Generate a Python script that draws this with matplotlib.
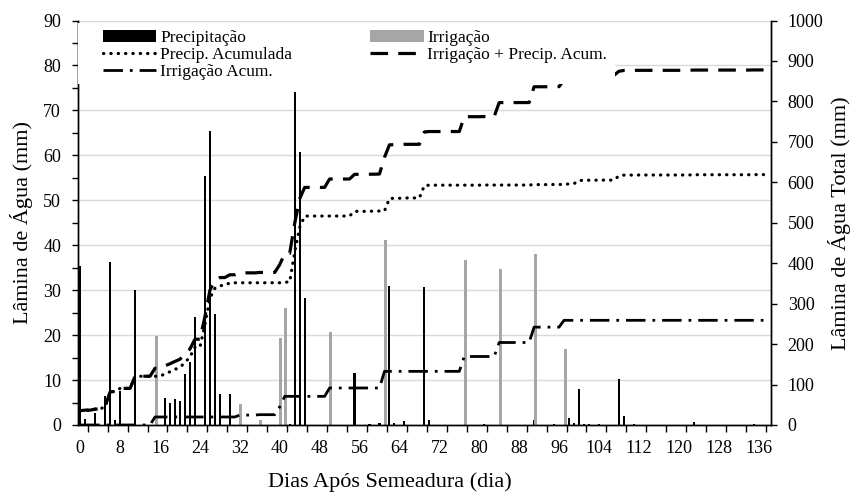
import numpy as np
import matplotlib.pyplot as plt
from matplotlib.patches import Rectangle
from matplotlib.ticker import MultipleLocator, FixedLocator

plt.rcParams['font.family'] = ['Liberation Serif', 'DejaVu Serif']

# days after sowing (0..137)
days = np.arange(0, 138)

# rainfall events (day, mm)
precip_days = [0, 1, 3, 5, 6, 7, 8, 11, 17, 18, 19, 20, 21, 22, 23, 25, 26, 27, 28, 30,
               41, 42, 43, 44, 45, 55, 58, 60, 62, 63, 65, 69, 70, 81, 91, 95, 98, 99,
               100, 101, 102, 104, 108, 109, 111, 123, 135]
precip_mm = [35.4, 1.3, 2.6, 6.5, 36.2, 1.0, 7.5, 30.0, 6.1, 5.0, 5.8, 5.4, 11.3, 14.1, 24.0,
             55.5, 65.5, 24.6, 6.9, 6.9, 1.5, 0.3, 74.2, 60.8, 28.2, 11.6, 0.3, 0.5, 31.0,
             0.5, 0.8, 30.6, 1.0, 0.3, 1.1, 0.3, 1.5, 0.5, 7.9, 0.3, 0.3, 0.3, 10.3, 2.0,
             0.3, 0.7, 0.3]

# irrigation events (day, mm)
irrig_days = [15, 32, 36, 40, 41, 50, 61, 77, 84, 91, 97]
irrig_mm = [19.8, 4.7, 1.0, 19.3, 26.0, 20.7, 41.1, 36.7, 34.6, 38.0, 16.9]

# daily series and running totals
precip = np.zeros(len(days))
precip[precip_days] = precip_mm
irrig = np.zeros(len(days))
irrig[irrig_days] = irrig_mm
precip_acc = np.cumsum(precip)
irrig_acc = np.cumsum(irrig)
total_acc = precip_acc + irrig_acc

fig = plt.figure(figsize=(8.53, 4.94), dpi=100)
ax = fig.add_axes([0.0911, 0.1397, 0.8128, 0.8188])
ax2 = ax.twinx()

grid_c = '#d9d9d9'
ax.set_axisbelow(True)
ax.yaxis.grid(True, color=grid_c, lw=1.0)

b1 = ax.bar(precip_days, precip_mm, width=0.42, color='black', zorder=2,
            label='Precipitação')
b2 = ax.bar(np.array(irrig_days) + 0.2, irrig_mm, width=0.6, color='#a6a6a6', zorder=2,
            label='Irrigação')

l1, = ax2.plot(days, precip_acc, color='black', lw=2.3,
               linestyle=(0, (0.1, 2.2)), dash_capstyle='round',
               label='Precip. Acumulada')
l2, = ax2.plot(days, total_acc, color='black', lw=2.3,
               linestyle=(0, (5.5, 3.2)), label='Irrigação + Precip. Acum.')
l3, = ax2.plot(days, irrig_acc, color='black', lw=2.0,
               linestyle=(0, (7, 2.5, 1, 2.5)), label='Irrigação Acum.')

ax.set_xlim(-0.5, 138.5)
ax.set_ylim(0, 90)
ax2.set_ylim(0, 1000)

ax.xaxis.set_major_locator(FixedLocator(np.arange(0, 137, 8)))
ax.xaxis.set_minor_locator(FixedLocator(np.arange(1.5, 138, 4)))
ax.tick_params(axis='x', which='major', length=0, labelsize=13, pad=11)
ax.tick_params(axis='x', which='minor', length=5, width=1, direction='out')
ax.yaxis.set_major_locator(MultipleLocator(10))
ax.yaxis.set_minor_locator(MultipleLocator(5))
ax.tick_params(axis='y', which='both', length=4, width=1, direction='out',
               labelsize=13, pad=8)
ax2.yaxis.set_major_locator(MultipleLocator(100))
ax2.tick_params(axis='y', length=4, width=1, direction='out', labelsize=13, pad=8)

for a in (ax, ax2):
    a.spines['top'].set_visible(False)
    for s in ('left', 'right', 'bottom'):
        a.spines[s].set_linewidth(1.0)

ax.set_xlabel('Dias Após Semeadura (dia)', fontsize=16)
ax.xaxis.set_label_coords(0.45, -0.117)
ax.set_ylabel('Lâmina de Água (mm)', fontsize=16, labelpad=7)
ax2.set_ylabel('Lâmina de Água Total (mm)', fontsize=16, labelpad=3)

# white panel behind the legend
ax2.add_patch(Rectangle((0, 0.843), 0.775, 0.15, transform=ax2.transAxes,
                        facecolor='white', edgecolor='none', zorder=4))
handles = [b1, l1, l3, b2, l2]
labels = [h.get_label() for h in handles]
ax2.legend(handles, labels, ncol=2, loc='upper left', bbox_to_anchor=(0.036, 0.977),
           frameon=False, fontsize=12.5, handlelength=3.1, handletextpad=0.2,
           labelspacing=0.05, columnspacing=4.5, borderpad=0, borderaxespad=0)

fig.savefig('out.png', dpi=100)
